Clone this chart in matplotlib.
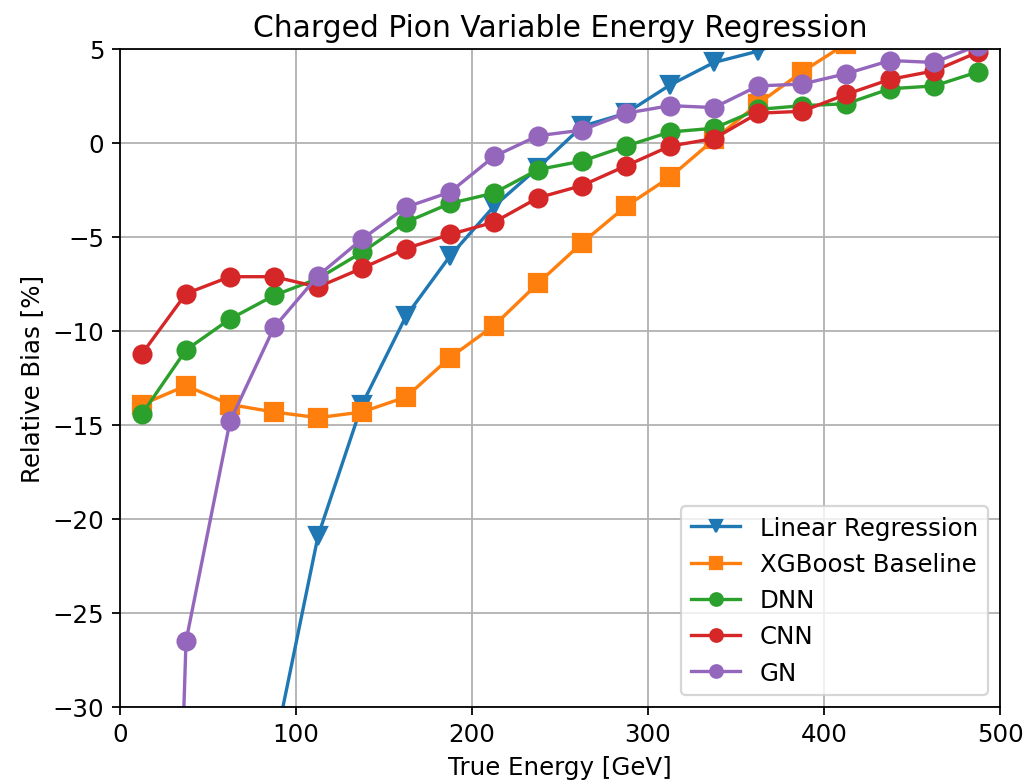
import matplotlib
matplotlib.use("agg")
import matplotlib.pyplot as plt
import numpy as np

# bin centres [GeV]
energy = np.arange(12.5, 500, 25)

# relative bias [%] per model (points outside the y-range are estimates)
linear_regression = [-80.0, -60.0, -45.0, -32.3, -20.9, -13.9, -9.2, -6.0, -3.35, -1.3,
                     0.9, 1.6, 3.1, 4.3, 4.9, 5.8, 6.6, 7.3, 8.0, 8.6]
xgboost = [-13.9, -12.9, -13.9, -14.3, -14.6, -14.3, -13.5, -11.4, -9.7, -7.45,
           -5.3, -3.35, -1.8, 0.2, 2.1, 3.8, 5.3, 6.5, 7.5, 8.5]
dnn = [-14.4, -11.0, -9.35, -8.1, -7.2, -5.8, -4.2, -3.2, -2.65, -1.4,
       -0.95, -0.15, 0.6, 0.8, 1.8, 2.0, 2.1, 2.9, 3.05, 3.8]
cnn = [-11.2, -8.0, -7.1, -7.1, -7.65, -6.65, -5.6, -4.85, -4.2, -2.9,
       -2.25, -1.2, -0.15, 0.25, 1.6, 1.7, 2.6, 3.4, 3.85, 4.85]
gn = [-100.0, -26.5, -14.8, -9.8, -7.05, -5.1, -3.4, -2.6, -0.7, 0.4,
      0.7, 1.6, 2.0, 1.9, 3.05, 3.15, 3.7, 4.4, 4.3, 5.2]

fig = plt.figure(figsize=(6.4, 4.88), dpi=160.8)
ax = fig.add_subplot(111)
fig.subplots_adjust(left=0.1166, right=0.9718, top=0.9363, bottom=0.098)

ms = 8
ax.plot(energy, linear_regression, marker="v", ms=ms, label="Linear Regression")
ax.plot(energy, xgboost, marker="s", ms=ms, label="XGBoost Baseline")
ax.plot(energy, dnn, marker="o", ms=ms, label="DNN")
ax.plot(energy, cnn, marker="o", ms=ms, label="CNN")
ax.plot(energy, gn, marker="o", ms=ms, label="GN")

ax.set_xlim(0, 500)
ax.set_ylim(-30, 5)
ax.grid(True)
ax.tick_params(labelsize=11)
ax.set_xlabel("True Energy [GeV]", fontsize=11)
ax.set_ylabel("Relative Bias [%]", fontsize=11)
ax.set_title("Charged Pion Variable Energy Regression", fontsize=13.3)
ax.legend(loc="lower right", fontsize=11, markerscale=0.7)

fig.savefig("out.png", dpi=160.8)
